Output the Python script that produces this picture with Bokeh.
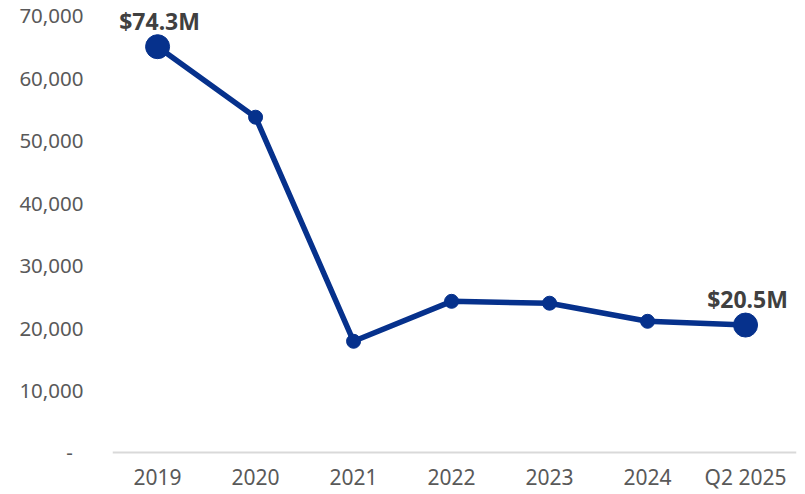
from bokeh.plotting import figure
from bokeh.models import Range1d, FixedTicker, NumeralTickFormatter, ColumnDataSource, Span
from bokeh.core.properties import value
from bokeh.embed import file_html
from bokeh.resources import INLINE

# ---- data ----
categories = ["2019", "2020", "2021", "2022", "2023", "2024", "Q2 2025"]
values = [65000, 53700, 17800, 24200, 23900, 21000, 20400]
callouts = ["$74.3M", "", "", "", "", "", "$20.5M"]
highlight = [True, False, False, False, False, False, True]
y_ticks = [0, 10000, 20000, 30000, 40000, 50000, 60000, 70000]

NAVY = "#06318C"
FONT = "Noto Sans"

x = list(range(len(categories)))

p = figure(width=805, height=494, output_backend="svg", toolbar_location=None,
           x_range=Range1d(-0.46, 6.52), y_range=Range1d(-820, 72400),
           min_border_left=112, min_border_right=9, min_border_top=0,
           min_border_bottom=37)
p.outline_line_color = None
p.background_fill_color = "white"
p.border_fill_color = "white"
p.xgrid.visible = False
p.ygrid.visible = False

# zero baseline
p.add_layout(Span(location=0, dimension="width", line_color="#D9D9D9", line_width=2))

# line
p.line(x, values, line_color=NAVY, line_width=5.5, line_join="round")

# markers
small_x = [xi for xi, h in zip(x, highlight) if not h]
small_y = [v for v, h in zip(values, highlight) if not h]
big_x = [xi for xi, h in zip(x, highlight) if h]
big_y = [v for v, h in zip(values, highlight) if h]
p.scatter(small_x, small_y, size=14, fill_color=NAVY, line_color=NAVY)
p.scatter(big_x, big_y, size=24, fill_color=NAVY, line_color=NAVY)

# callout labels
lab = ColumnDataSource(dict(
    x=[xi for xi, c in zip(x, callouts) if c],
    y=[v for v, c in zip(values, callouts) if c],
    t=[c for c in callouts if c],
))
p.text(x="x", y="y", text="t", source=lab, text_align="center",
       text_baseline="alphabetic", y_offset=-26, x_offset=2,
       text_font=value(FONT), text_font_style="bold",
       text_font_size="23px", text_color="#404040")

# x axis
p.xaxis.ticker = FixedTicker(ticks=x)
p.xaxis.major_label_overrides = {i: c for i, c in enumerate(categories)}
p.xaxis.axis_line_color = None
p.xaxis.major_tick_line_color = None
p.xaxis.minor_tick_line_color = None
p.xaxis.major_tick_in = 0
p.xaxis.major_tick_out = 0
p.xaxis.major_label_standoff = 5
p.xaxis.major_label_text_font = FONT
p.xaxis.major_label_text_font_size = "21px"
p.xaxis.major_label_text_line_height = 1.0
p.xaxis.major_label_text_color = "#595959"

# y axis
p.yaxis.ticker = FixedTicker(ticks=y_ticks)
p.yaxis.formatter = NumeralTickFormatter(format="0,0")
p.yaxis.major_label_overrides = {0: "-\u00a0\u00a0"}
p.yaxis.axis_line_color = None
p.yaxis.major_tick_line_color = None
p.yaxis.minor_tick_line_color = None
p.yaxis.major_tick_in = 0
p.yaxis.major_tick_out = 0
p.yaxis.major_label_standoff = 29
p.yaxis.major_label_text_font = FONT
p.yaxis.major_label_text_font_size = "20.5px"
p.yaxis.major_label_text_color = "#595959"

open("out.html", "w").write(file_html(p, INLINE))
